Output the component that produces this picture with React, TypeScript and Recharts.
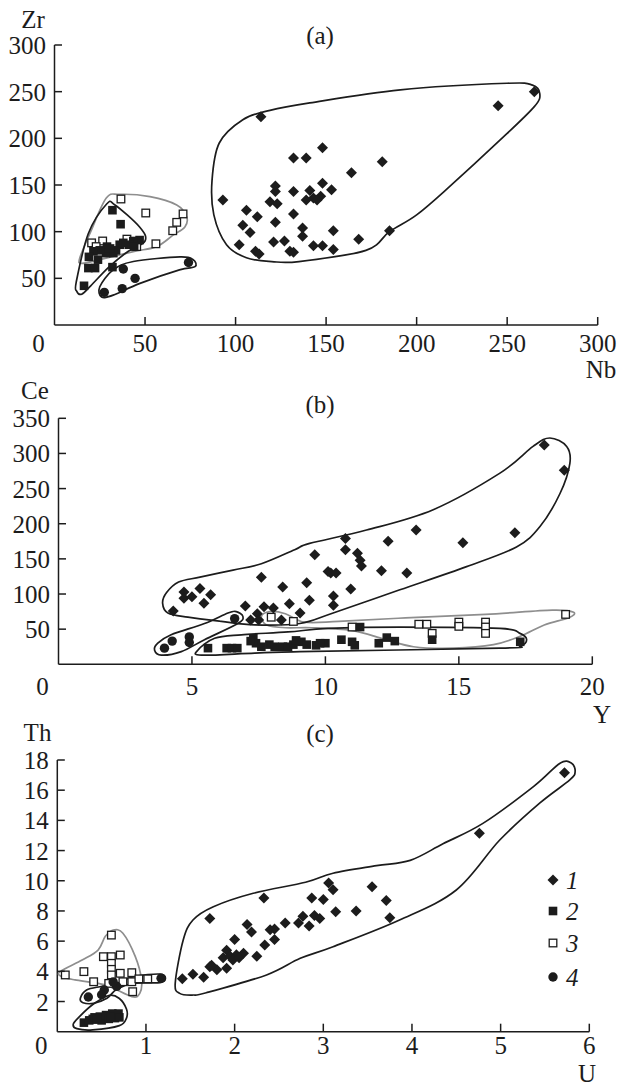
import React from 'react';
import { ScatterChart, Scatter, XAxis, YAxis } from 'recharts';

type P = [number, number];

const FONT = '"Liberation Serif", "Times New Roman", Times, serif';
const INK = '#1c1c1c';
const GRAY = '#8e8e8e';

// ---------- Panel (a): Zr vs Nb ----------
const aXTicks = [0, 50, 100, 150, 200, 250, 300];
const aYTicks = [50, 100, 150, 200, 250, 300];
const zrNb1: P[] = [[114,223],[148,190],[132,179],[139,179],[164,163],[181,175],[93,134],[122,149],[122,143],[119,132],[123,130],[132,143],[148,152],[153,145],[141,144],[139,134],[143,136],[147,138],[145,134],[106,123],[112,116],[132,119],[104,107],[108,99],[122,110],[137,104],[137,95],[154,101],[168,92],[102,86],[121,89],[127,90],[111,79],[113,76],[130,79],[132,78],[143,85],[148,85],[154,81],[185,101],[245,235],[265,250]];
const zrNb2: P[] = [[32,123],[36.5,108],[47,91],[43.5,90],[41,86],[36,86],[34,80],[29,84],[28.5,77],[25,80],[21.5,79],[19,73],[18.7,61],[22.4,61],[32,62],[16.3,42],[32.5,77],[30.7,82],[24,70],[38,88],[44,84]];
const zrNb3: P[] = [[36.7,135],[50.4,120],[56,87],[71,119],[67.5,110],[65.3,101],[20.5,88],[26.6,90],[45.4,84],[40,92],[23,84]];
const zrNb4: P[] = [[27.5,35],[37.4,39],[38,60],[44.5,50],[74,67]];
const zrNbHull1: P[] = [[87,155],[91,195],[104,220],[119,230],[141,238],[191,252],[250,259],[264,257],[268,248],[265,234],[246,198],[218,148],[200,118],[185,100],[172,80],[135,68],[120,68],[106,72],[95,86],[88,118]];
const zrNbHull2: P[] = [[12.3,36],[12,46],[18.7,98],[28.8,129.6],[33.4,128.6],[47,105],[50,90],[40,78],[30,62],[20,42],[15,33]];
const zrNbHull3: P[] = [[14,72],[20,100],[28.6,136],[36,140],[52.7,137.5],[67.5,128.6],[73,116],[72,105],[65.3,96],[56.4,84],[43.5,78.6],[25,70],[15,66]];
const zrNbHull4: P[] = [[26,30],[25,41],[32.4,59],[43.5,68],[69.3,73],[76.6,70],[77.6,62.5],[69,59],[47.2,44.6],[32.4,32]];

// ---------- Panel (b): Ce vs Y ----------
const bXTicks = [0, 5, 10, 15, 20];
const bYTicks = [50, 100, 150, 200, 250, 300, 350];
const ceY1: P[] = [[4.3,76],[4.7,103],[4.7,94],[5.0,96],[5.3,108],[5.45,87],[5.7,99],[7.0,83],[7.6,124],[7.45,72],[7.2,63],[7.5,63],[7.7,82],[8.05,80],[8.4,110],[8.65,86],[9.3,116],[9.4,91],[9.6,156],[10.1,132],[8.35,63],[9.05,73],[18.2,312],[18.95,276],[17.1,187],[13.4,191],[15.15,173],[12.35,175],[10.75,179],[10.75,163],[11.2,158],[11.3,148],[11.35,140],[12.1,133],[13.05,130],[10.2,130],[10.4,130],[10.95,107],[10.3,97],[10.3,84]];
const ceY2: P[] = [[5.6,23],[6.3,23],[6.5,23],[6.7,23],[7.3,37],[7.4,30],[7.6,25],[7.9,28],[8.1,25],[8.4,25],[8.6,25],[8.8,28],[9.1,32],[9.3,28],[9.65,27],[10.0,30],[9.8,30],[10.6,35],[11.0,32],[11.1,27],[11.3,53],[12.0,30],[12.3,38],[12.6,33],[14.0,35],[17.3,32],[8.9,34],[7.2,33]];
const ceY3: P[] = [[7.97,67],[8.8,61],[11.0,53],[13.5,57],[13.8,57],[15.0,60],[15.0,54],[16.0,60],[16.0,53],[16.0,44],[14.0,44],[19.0,71]];
const ceY4: P[] = [[3.97,23],[4.26,33],[4.9,39],[4.9,31],[6.6,65]];
const ceYHull1: P[] = [[3.9,87],[4.05,102],[4.5,117],[5.3,124],[6.54,134],[7.6,143],[8.85,163],[9.41,172],[11.54,191],[14.04,220],[16.54,272],[17.78,310],[18.41,322],[19.04,310],[19.16,286],[18.79,243],[18.04,196],[17.16,167],[15.29,139],[12.79,106],[10.29,73],[9.04,58],[7.35,56],[6.1,61],[4.85,67],[4.1,73]];
const ceYHull2: P[] = [[5.22,20],[5.85,37],[6.85,42],[8.6,46],[10.1,51],[12.8,53],[16.54,51],[17.29,44],[17.54,35],[17.3,26],[16.54,23],[9.04,18],[7.35,16],[5.35,13]];
const ceYHull3: P[] = [[7.6,68],[7.9,75],[8.5,72],[9.2,60],[10.5,61],[13,66],[16,71],[18.5,77],[19.3,74],[19.1,66],[18.2,56],[17.3,40],[16.3,28],[14.8,23],[13.3,25],[12.2,36],[11,48],[9.5,52],[8.5,52],[7.8,56]];
const ceYHull4: P[] = [[3.6,20],[3.72,30],[4.22,42],[5.47,58],[6.35,73],[6.66,75],[6.91,68],[6.72,58],[5.47,35],[4.6,18],[3.85,13]];

// ---------- Panel (c): Th vs U ----------
const cXTicks = [0, 1, 2, 3, 4, 5, 6];
const cYTicks = [2, 4, 6, 8, 10, 12, 14, 16, 18];
const thU1: P[] = [[1.41,3.5],[1.53,3.8],[1.65,3.6],[1.72,4.3],[1.8,4.1],[1.74,4.4],[1.72,7.5],[1.87,4.9],[1.91,4.2],[1.91,5.4],[1.95,5.0],[2.0,6.1],[2.02,5.1],[2.1,5.2],[2.14,7.1],[2.19,6.6],[2.25,5.0],[2.34,5.75],[2.33,8.85],[2.4,6.75],[2.45,6.8],[2.45,6.1],[2.57,7.2],[2.72,7.2],[2.77,7.65],[2.84,7.0],[2.87,8.85],[2.9,7.7],[2.96,7.5],[3.0,8.75],[3.06,9.85],[3.11,9.4],[3.14,7.95],[3.37,8.0],[3.55,9.6],[3.71,8.7],[3.75,7.55],[4.76,13.15],[5.72,17.15],[1.98,4.75],[2.05,4.9]];
const thU2: P[] = [[0.3,0.6],[0.36,0.75],[0.4,0.85],[0.42,0.95],[0.48,1.0],[0.5,0.75],[0.55,1.1],[0.58,0.85],[0.62,1.2],[0.65,0.9],[0.69,1.2],[0.7,0.95],[0.45,0.8],[0.6,1.0]];
const thU3: P[] = [[0.61,6.4],[0.09,3.76],[0.3,3.98],[0.52,4.97],[0.71,5.08],[0.61,4.97],[0.61,4.53],[0.61,4.13],[0.61,3.76],[0.71,3.87],[0.84,3.91],[0.41,3.31],[0.84,3.31],[0.85,2.65],[0.74,3.31],[0.58,3.2],[0.92,3.5],[1.02,3.5]];
const thU4: P[] = [[0.35,2.3],[0.53,2.76],[0.67,3.0],[0.63,3.3],[1.17,3.54],[0.5,2.45]];
const thUHull1: P[] = [[1.38,2.54],[1.33,3.21],[1.42,6.08],[1.53,7.4],[1.76,8.28],[2.21,9.17],[2.8,9.9],[3.11,10.5],[3.6,11.0],[3.98,11.35],[4.35,12.45],[4.8,13.8],[5.37,16.24],[5.67,17.79],[5.8,17.79],[5.84,17.23],[5.78,16.68],[5.44,15.14],[4.99,12.7],[4.5,9.39],[3.86,7.4],[3.11,5.63],[2.74,4.86],[2.36,3.76],[1.68,2.58],[1.53,2.43]];
const thUHull2: P[] = [[0.18,0.5],[0.25,1.0],[0.4,1.8],[0.58,2.4],[0.7,2.2],[0.78,1.5],[0.78,0.9],[0.7,0.4],[0.4,0.12],[0.22,0.2]];
const thUHull3: P[] = [[0.03,3.98],[0.28,4.75],[0.46,5.41],[0.54,6.3],[0.63,6.74],[0.74,6.52],[0.88,4.97],[0.95,3.43],[0.93,2.54],[0.84,2.32],[0.54,3.1],[0.2,3.43],[0.05,3.65]];
const thUHull4: P[] = [[0.26,2.21],[0.33,2.76],[0.48,2.98],[0.63,3.1],[0.86,3.65],[1.16,3.82],[1.22,3.54],[1.16,3.25],[0.86,3.21],[0.67,2.81],[0.56,2.21],[0.41,1.88],[0.29,1.92]];

const legendLabels = ['1', '2', '3', '4'];

const toPts = (arr: P[]) => arr.map(([x, y]) => ({ x, y }));

// closed Catmull-Rom curve factory (d3 curve interface)
function ClosedCatmull(this: any, context: any) {
  this._context = context;
}
ClosedCatmull.prototype = {
  areaStart() {},
  areaEnd() {},
  lineStart() {
    this._pts = [];
  },
  point(x: number, y: number) {
    this._pts.push([+x, +y]);
  },
  lineEnd() {
    const p = this._pts as number[][];
    const n = p.length;
    const c = this._context;
    if (!n) return;
    c.moveTo(p[0][0], p[0][1]);
    const t = 1 / 6;
    for (let i = 0; i < n; i++) {
      const p0 = p[(i - 1 + n) % n];
      const p1 = p[i];
      const p2 = p[(i + 1) % n];
      const p3 = p[(i + 2) % n];
      c.bezierCurveTo(
        p1[0] + (p2[0] - p0[0]) * t,
        p1[1] + (p2[1] - p0[1]) * t,
        p2[0] - (p3[0] - p1[0]) * t,
        p2[1] - (p3[1] - p1[1]) * t,
        p2[0],
        p2[1]
      );
    }
    c.closePath();
  },
};
const closedCurve: any = (context: any) => new (ClosedCatmull as any)(context);

// marker shapes
const Diamond = (props: any) => {
  const { cx, cy } = props;
  if (cx == null || cy == null) return <g />;
  const r = 5.5;
  return <polygon points={`${cx},${cy - r} ${cx + r},${cy} ${cx},${cy + r} ${cx - r},${cy}`} fill={INK} />;
};
const FilledSquare = (props: any) => {
  const { cx, cy } = props;
  if (cx == null || cy == null) return <g />;
  const s = 8.6;
  return <rect x={cx - s / 2} y={cy - s / 2} width={s} height={s} fill={INK} />;
};
const OpenSquare = (props: any) => {
  const { cx, cy } = props;
  if (cx == null || cy == null) return <g />;
  const s = 7.6;
  return <rect x={cx - s / 2} y={cy - s / 2} width={s} height={s} fill="#fff" stroke={INK} strokeWidth={1.3} />;
};
const Dot = (props: any) => {
  const { cx, cy } = props;
  if (cx == null || cy == null) return <g />;
  return <circle cx={cx} cy={cy} r={4.7} fill={INK} />;
};
const NoShape = () => <g />;

const textStyle = { fontFamily: FONT, fontSize: 25, fill: INK } as const;

const makeXTick = (labelDy: number, zeroShift: number) => (props: any) => {
  const { x, y, payload } = props;
  const v = payload.value;
  return (
    <g>
      {v !== 0 && <line x1={x} x2={x} y1={y} y2={y - 8} stroke={INK} strokeWidth={1.5} />}
      <text x={v === 0 ? x + zeroShift : x} y={y + labelDy} textAnchor="middle" {...textStyle}>
        {v}
      </text>
    </g>
  );
};

const YTick = (props: any) => {
  const { x, y, payload } = props;
  return (
    <g>
      <line x1={x} x2={x + 7.5} y1={y} y2={y} stroke={INK} strokeWidth={1.5} />
      <text x={x - 8.5} y={y + 9} textAnchor="end" {...textStyle}>
        {payload.value}
      </text>
    </g>
  );
};

const hull = (data: P[], color: string, key: string) => (
  <Scatter
    key={key}
    data={toPts(data)}
    shape={NoShape}
    line={{ stroke: color, strokeWidth: 1.7 }}
    lineType="joint"
    lineJointType={closedCurve}
    legendType="none"
    isAnimationActive={false}
  />
);

type PanelProps = {
  top: number;
  height: number;
  margin: { top: number; right: number; bottom: number; left: number };
  yWidth: number;
  xDomain: [number, number];
  yDomain: [number, number];
  xTicks: number[];
  yTicks: number[];
  labelDy: number;
  g1: P[];
  g2: P[];
  g3: P[];
  g4: P[];
  h1: P[];
  h2: P[];
  h3: P[];
  h4: P[];
};

const Panel = (p: PanelProps) => (
  <div style={{ position: 'absolute', left: 0, top: p.top }}>
    <ScatterChart width={619} height={p.height} margin={p.margin}>
      <XAxis
        type="number"
        dataKey="x"
        domain={p.xDomain}
        ticks={p.xTicks}
        allowDataOverflow
        height={30}
        tickSize={0}
        tickMargin={0}
        tickLine={false}
        axisLine={{ stroke: INK, strokeWidth: 1.5 }}
        tick={makeXTick(p.labelDy, -16)}
        interval={0}
      />
      <YAxis
        type="number"
        dataKey="y"
        domain={p.yDomain}
        ticks={p.yTicks}
        allowDataOverflow
        width={p.yWidth}
        tickSize={0}
        tickMargin={0}
        tickLine={false}
        axisLine={{ stroke: INK, strokeWidth: 1.5 }}
        tick={YTick}
        interval={0}
      />
      {hull(p.h3, GRAY, 'h3')}
      {hull(p.h1, INK, 'h1')}
      {hull(p.h2, INK, 'h2')}
      {hull(p.h4, INK, 'h4')}
      <Scatter data={toPts(p.g1)} shape={Diamond} fill={INK} isAnimationActive={false} />
      <Scatter data={toPts(p.g3)} shape={OpenSquare} fill={INK} isAnimationActive={false} />
      <Scatter data={toPts(p.g2)} shape={FilledSquare} fill={INK} isAnimationActive={false} />
      <Scatter data={toPts(p.g4)} shape={Dot} fill={INK} isAnimationActive={false} />
    </ScatterChart>
  </div>
);

const legendY = [880, 911, 943, 977];

export default function App() {
  return (
    <div style={{ position: 'absolute', left: 0, top: 0, width: 619, height: 1090, background: '#fff' }}>
      <Panel
        top={0}
        height={360}
        margin={{ top: 45, right: 21.3, bottom: 5, left: 0 }}
        yWidth={54.5}
        xDomain={[0, 300]}
        yDomain={[0, 300]}
        xTicks={aXTicks}
        yTicks={aYTicks}
        labelDy={27}
        g1={zrNb1}
        g2={zrNb2}
        g3={zrNb3}
        g4={zrNb4}
        h1={zrNbHull1}
        h2={zrNbHull2}
        h3={zrNbHull3}
        h4={zrNbHull4}
      />
      <Panel
        top={355}
        height={360}
        margin={{ top: 63.3, right: 26.7, bottom: 20.7, left: 0 }}
        yWidth={58.5}
        xDomain={[0, 20]}
        yDomain={[0, 350]}
        xTicks={bXTicks}
        yTicks={bYTicks}
        labelDy={30.5}
        g1={ceY1}
        g2={ceY2}
        g3={ceY3}
        g4={ceY4}
        h1={ceYHull1}
        h2={ceYHull2}
        h3={ceYHull3}
        h4={ceYHull4}
      />
      <Panel
        top={715}
        height={375}
        margin={{ top: 45, right: 29.7, bottom: 28.3, left: 0 }}
        yWidth={57.3}
        xDomain={[0, 6]}
        yDomain={[0, 18]}
        xTicks={cXTicks}
        yTicks={cYTicks}
        labelDy={22}
        g1={thU1}
        g2={thU2}
        g3={thU3}
        g4={thU4}
        h1={thUHull1}
        h2={thUHull2}
        h3={thUHull3}
        h4={thUHull4}
      />
      <svg
        width={619}
        height={1090}
        style={{ position: 'absolute', left: 0, top: 0, pointerEvents: 'none' }}
      >
        <text x={33} y={27.5} textAnchor="middle" {...textStyle}>Zr</text>
        <text x={320} y={44} textAnchor="middle" {...textStyle}>(a)</text>
        <text x={601} y={377.5} textAnchor="middle" {...textStyle}>Nb</text>
        <text x={35} y={399} textAnchor="middle" {...textStyle}>Ce</text>
        <text x={320} y={413} textAnchor="middle" {...textStyle}>(b)</text>
        <text x={602} y={723} textAnchor="middle" {...textStyle}>Y</text>
        <text x={37.5} y={740.5} textAnchor="middle" {...textStyle}>Th</text>
        <text x={320} y={742} textAnchor="middle" {...textStyle}>(c)</text>
        <text x={587} y={1082} textAnchor="middle" {...textStyle}>U</text>
        {legendLabels.map((lab, i) => {
          const cy = legendY[i];
          const cx = 553;
          const sym =
            i === 0 ? <Diamond cx={cx} cy={cy} /> :
            i === 1 ? <FilledSquare cx={cx} cy={cy} /> :
            i === 2 ? <OpenSquare cx={cx} cy={cy} /> :
            <Dot cx={cx} cy={cy} />;
          return (
            <g key={lab}>
              {sym}
              <text x={566} y={cy + 9} fontStyle="italic" {...textStyle}>{lab}</text>
            </g>
          );
        })}
      </svg>
    </div>
  );
}
